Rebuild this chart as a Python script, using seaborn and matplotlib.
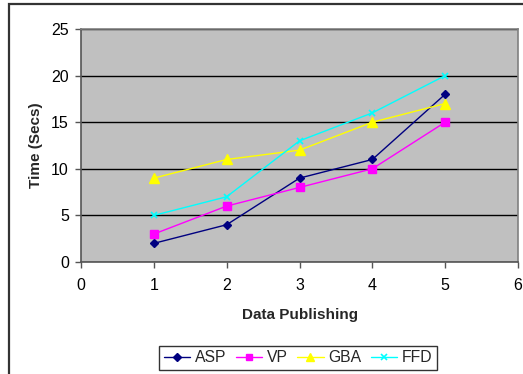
import matplotlib
matplotlib.use("Agg")
import matplotlib.pyplot as plt
import matplotlib.patches as mpatches
import seaborn as sns
import pandas as pd

# Publishing round on the x axis, elapsed time in seconds per method
rounds = [1, 2, 3, 4, 5]
asp = [2, 4, 9, 11, 18]
vp = [3, 6, 8, 10, 15]
gba = [9, 11, 12, 15, 17]
ffd = [5, 7, 13, 16, 20]

methods = ["ASP", "VP", "GBA", "FFD"]
series = {"ASP": asp, "VP": vp, "GBA": gba, "FFD": ffd}
palette = {"ASP": "#000080", "VP": "#FF00FF", "GBA": "#FFFF00", "FFD": "#00FFFF"}
markers = {"ASP": "D", "VP": "s", "GBA": "^", "FFD": "x"}
msizes = {"ASP": 4.5, "VP": 5.5, "GBA": 6.5, "FFD": 5}

df = pd.DataFrame(
    [(r, v, m) for m in methods for r, v in zip(rounds, series[m])],
    columns=["Data Publishing", "Time", "Method"],
)

sns.set_theme(style="white")
plt.rcParams["font.family"] = ["Liberation Sans", "DejaVu Sans"]

fig = plt.figure(figsize=(5.23, 3.74), dpi=100)
ax = fig.add_axes([81 / 523, 1 - 262 / 374, (518 - 81) / 523, (262 - 29) / 374])

# chart-area frame
fig.patches.append(mpatches.Rectangle((9 / 523, -0.1), 1.2, 1 - 4 / 374 + 0.1,
                                      transform=fig.transFigure, fill=False,
                                      edgecolor="#333333", linewidth=1.6))

ax.set_facecolor("#C0C0C0")
for m in methods:
    sub = df[df["Method"] == m]
    sns.lineplot(data=sub, x="Data Publishing", y="Time", ax=ax, color=palette[m],
                 marker=markers[m], markersize=msizes[m], markeredgecolor=palette[m],
                 markeredgewidth=1.0 if m != "FFD" else 1.2,
                 linewidth=1.0, label=m, legend=False, zorder=3)

ax.set_xlim(0, 6)
ax.set_ylim(0, 25)
ax.set_xticks(range(0, 7))
ax.set_yticks(range(0, 26, 5))
ax.yaxis.grid(True, color="black", linewidth=1.0)
ax.xaxis.grid(False)
ax.set_axisbelow(True)

for side in ["left", "bottom"]:
    ax.spines[side].set_color("#555555")
    ax.spines[side].set_linewidth(1.2)
for side in ["top", "right"]:
    ax.spines[side].set_color("#808080")
    ax.spines[side].set_linewidth(1.2)

ax.tick_params(axis="both", which="major", direction="out", length=4.2, width=1,
               color="#555555", labelsize=11.5, labelcolor="black",
               left=True, bottom=True)
ax.tick_params(axis="x", pad=7)
ax.tick_params(axis="y", pad=4.5)

ax.set_xlabel("Data Publishing", fontsize=11, fontweight="bold", labelpad=11)
ax.set_ylabel("Time (Secs)", fontsize=11, fontweight="bold", labelpad=6)

handles, labels = ax.get_legend_handles_labels()
leg = fig.legend(handles, labels, loc="center", bbox_to_anchor=(298 / 523, 1 - 358 / 374),
                 ncol=4, frameon=True, fancybox=False, fontsize=11.3,
                 handlelength=1.7, handletextpad=0.28, columnspacing=0.6,
                 borderpad=0.3, borderaxespad=0, markerscale=0.8, edgecolor="black")
leg.get_frame().set_linewidth(1.0)

fig.savefig("out.png", dpi=100)
